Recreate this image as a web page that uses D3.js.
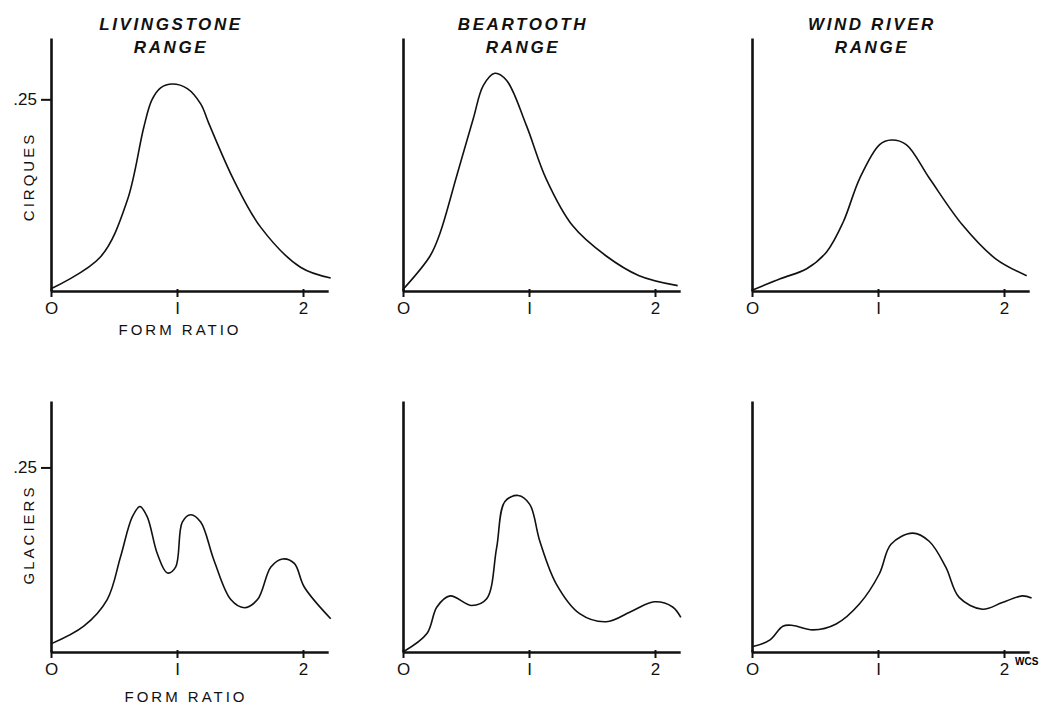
<!DOCTYPE html>
<meta charset="utf-8" />
<head>
  <style>
    body { margin: 0; background: #fff; }
    svg { display: block; }
    .curve { fill: none; stroke: #111; stroke-width: 1.6px; }
    .axis path, .axis line { stroke: #111; }
    .axis path { stroke-width: 2.6px; }
    .axis line { stroke-width: 2px; }
    .axis text { font-family: "Liberation Sans", Arial, sans-serif; font-size: 17px; fill: #111; }
    .title { font-family: "Liberation Sans", Arial, sans-serif; font-size: 17px; font-style: italic; font-weight: bold; letter-spacing: 2.6px; fill: #111; }
    .lab { font-family: "Liberation Sans", Arial, sans-serif; font-size: 15px; letter-spacing: 3px; fill: #111; }
  </style>
  <script src="https://cdn.jsdelivr.net/npm/d3@7"></script>
</head>
<body>
<script>
  // ranges (columns) and feature types (rows)
  var ranges = [["LIVINGSTONE", "RANGE"], ["BEARTOOTH", "RANGE"], ["WIND RIVER", "RANGE"]];
  var rowLabels = ["CIRQUES", "GLACIERS"];
  var xTicks = [0, 1, 2];
  var yTicks = [0.25];

  // frequency curves: form ratio vs. frequency
  var livCirquesX = [0, 0.39, 0.605, 0.737, 0.80, 0.87, 0.963, 1.082, 1.188, 1.254, 1.453, 1.665, 1.98, 2.22];
  var livCirquesY = [0.003, 0.044, 0.118, 0.214, 0.249, 0.265, 0.270, 0.264, 0.244, 0.218, 0.144, 0.083, 0.031, 0.017];

  var bearCirquesX = [0, 0.216, 0.295, 0.426, 0.558, 0.637, 0.729, 0.821, 0.979, 1.137, 1.347, 1.61, 1.874, 2.18];
  var bearCirquesY = [0.002, 0.046, 0.076, 0.150, 0.225, 0.268, 0.284, 0.275, 0.216, 0.146, 0.085, 0.046, 0.020, 0.007];

  var windCirquesX = [0, 0.224, 0.434, 0.592, 0.724, 0.855, 1.013, 1.105, 1.224, 1.408, 1.671, 1.934, 2.18];
  var windCirquesY = [0.001, 0.016, 0.029, 0.051, 0.090, 0.147, 0.191, 0.197, 0.191, 0.147, 0.086, 0.042, 0.020];

  var livGlaciersX = [0, 0.26, 0.446, 0.552, 0.645, 0.706, 0.764, 0.844, 0.923, 0.989, 1.042, 1.109, 1.188, 1.294, 1.427, 1.533, 1.639, 1.745, 1.838, 1.931, 2.01, 2.22];
  var livGlaciersY = [0.011, 0.035, 0.071, 0.129, 0.183, 0.197, 0.183, 0.133, 0.107, 0.115, 0.176, 0.186, 0.176, 0.124, 0.071, 0.060, 0.071, 0.115, 0.126, 0.120, 0.088, 0.045];

  var bearGlaciersX = [0, 0.19, 0.269, 0.374, 0.545, 0.664, 0.743, 0.809, 0.914, 1.006, 1.086, 1.217, 1.402, 1.613, 1.823, 1.995, 2.14, 2.205];
  var bearGlaciersY = [0, 0.025, 0.061, 0.076, 0.063, 0.072, 0.141, 0.204, 0.212, 0.200, 0.150, 0.092, 0.052, 0.041, 0.056, 0.068, 0.061, 0.047];

  var windGlaciersX = [0, 0.14, 0.245, 0.325, 0.483, 0.668, 0.852, 1.011, 1.103, 1.274, 1.406, 1.538, 1.644, 1.829, 1.987, 2.145, 2.219];
  var windGlaciersY = [0.007, 0.016, 0.035, 0.036, 0.030, 0.038, 0.065, 0.106, 0.146, 0.161, 0.150, 0.115, 0.074, 0.058, 0.067, 0.076, 0.073];

  var series = [
    [[livCirquesX, livCirquesY], [bearCirquesX, bearCirquesY], [windCirquesX, windCirquesY]],
    [[livGlaciersX, livGlaciersY], [bearGlaciersX, bearGlaciersY], [windGlaciersX, windGlaciersY]]
  ];

  var colLeft = [51, 403, 752],
    unit = 126,
    xMax = 2.2,
    rowBase = [291, 652],
    rowTop = [38, 401],
    yMax = [0.33, 0.34];

  var svg = d3.select("body").append("svg")
    .attr("width", 1046)
    .attr("height", 706);

  // titles
  ranges.forEach(function(r, c) {
    var cx = colLeft[c] + 1.0 * unit - 6;
    svg.append("text").attr("class", "title")
      .attr("x", cx).attr("y", 30).attr("text-anchor", "middle").text(r[0]);
    svg.append("text").attr("class", "title")
      .attr("x", cx).attr("y", 53).attr("text-anchor", "middle").text(r[1]);
  });

  for (var row = 0; row < 2; row++) {
    var y = d3.scaleLinear().domain([0, yMax[row]]).range([rowBase[row], rowTop[row]]);
    for (var c = 0; c < 3; c++) {
      var x = d3.scaleLinear().domain([0, xMax]).range([colLeft[c], colLeft[c] + xMax * unit]);
      var g = svg.append("g");

      var xa = g.append("g").attr("class", "axis")
        .attr("transform", "translate(0," + rowBase[row] + ")")
        .call(d3.axisBottom(x).tickValues(xTicks).tickSize(6).tickSizeOuter(0).tickPadding(5)
          .tickFormat(function(d) { return d === 0 ? "O" : d === 1 ? "I" : d; }));
      xa.selectAll(".tick line").attr("y1", -2);

      g.append("g").attr("class", "axis")
        .attr("transform", "translate(" + colLeft[c] + ",0)")
        .call(d3.axisLeft(y).tickValues(c === 0 ? yTicks : []).tickSize(10).tickSizeOuter(0).tickPadding(4)
          .tickFormat(function(d) { return ".25"; }));

      var s = series[row][c];
      var pts = s[0].map(function(v, i) { return [v, s[1][i]]; });
      g.append("path").attr("class", "curve")
        .datum(pts)
        .attr("d", d3.line()
          .x(function(d) { return x(d[0]); })
          .y(function(d) { return y(d[1]); })
          .curve(d3.curveCatmullRom.alpha(0.5)));
    }

    // row label
    var ly = (rowBase[row] + rowTop[row]) / 2 + (row === 0 ? 12 : 8);
    svg.append("text").attr("class", "lab")
      .attr("transform", "translate(34," + ly + ") rotate(-90)")
      .attr("text-anchor", "middle").text(rowLabels[row]);

    // form ratio label under left column
    svg.append("text").attr("class", "lab")
      .attr("x", row === 0 ? 180 : 186).attr("y", rowBase[row] + (row === 0 ? 44 : 50))
      .attr("text-anchor", "middle").text("FORM RATIO");
  }

  svg.append("text")
    .attr("x", 1015).attr("y", 665)
    .style("font-family", "Liberation Sans, Arial, sans-serif")
    .style("font-size", "10px").style("font-weight", "bold")
    .text("WCS");
</script>
</body>
